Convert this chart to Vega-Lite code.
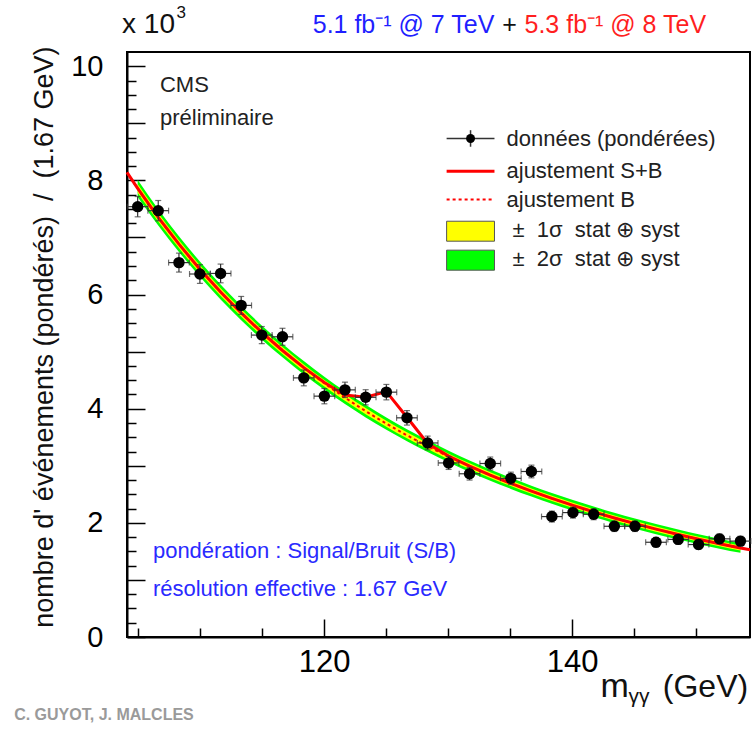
{
"$schema": "https://vega.github.io/schema/vega-lite/v6.json",
"width": 623, "height": 585,
"autosize": {"type": "none"},
"padding": {"left": 127, "top": 52, "right": 2, "bottom": 94},
"background": "white",
"config": {"view": {"stroke": "black", "strokeWidth": 2}, "font": "Liberation Sans", "axis": {"grid": false}},
"resolve": {"axis": {"x": "independent", "y": "independent"}},
"datasets": {
"pts": [
{"m":104.96,"n":7.54,"err":0.178,"hw":0.835},
{"m":106.62,"n":7.47,"err":0.178,"hw":0.835},
{"m":108.29,"n":6.56,"err":0.166,"hw":0.835},
{"m":109.98,"n":6.36,"err":0.164,"hw":0.835},
{"m":111.65,"n":6.37,"err":0.164,"hw":0.835},
{"m":113.31,"n":5.81,"err":0.157,"hw":0.835},
{"m":114.97,"n":5.29,"err":0.150,"hw":0.835},
{"m":116.64,"n":5.26,"err":0.149,"hw":0.835},
{"m":118.36,"n":4.54,"err":0.139,"hw":0.835},
{"m":120.02,"n":4.22,"err":0.134,"hw":0.835},
{"m":121.68,"n":4.33,"err":0.135,"hw":0.835},
{"m":123.35,"n":4.20,"err":0.133,"hw":0.835},
{"m":125.02,"n":4.29,"err":0.135,"hw":0.835},
{"m":126.68,"n":3.84,"err":0.127,"hw":0.835},
{"m":128.35,"n":3.40,"err":0.120,"hw":0.835},
{"m":130.04,"n":3.05,"err":0.114,"hw":0.835},
{"m":131.73,"n":2.86,"err":0.110,"hw":0.835},
{"m":133.40,"n":3.04,"err":0.113,"hw":0.835},
{"m":135.06,"n":2.78,"err":0.108,"hw":0.835},
{"m":136.72,"n":2.90,"err":0.111,"hw":0.835},
{"m":138.37,"n":2.11,"err":0.095,"hw":0.835},
{"m":140.07,"n":2.18,"err":0.096,"hw":0.835},
{"m":141.74,"n":2.15,"err":0.095,"hw":0.835},
{"m":143.41,"n":1.94,"err":0.091,"hw":0.835},
{"m":145.07,"n":1.94,"err":0.091,"hw":0.835},
{"m":146.77,"n":1.66,"err":0.084,"hw":0.835},
{"m":148.56,"n":1.71,"err":0.085,"hw":0.835},
{"m":150.20,"n":1.62,"err":0.083,"hw":0.835},
{"m":151.89,"n":1.72,"err":0.085,"hw":0.835},
{"m":153.58,"n":1.68,"err":0.084,"hw":0.835}
],
"curve": [
{"m":104.1,"b":8.14,"sb":8.14},
{"m":104.96,"b":7.860,"sb":7.860},
{"m":106.62,"b":7.353,"sb":7.353},
{"m":108.29,"b":6.883,"sb":6.883},
{"m":109.98,"b":6.445,"sb":6.445},
{"m":111.65,"b":6.045,"sb":6.045},
{"m":113.31,"b":5.678,"sb":5.678},
{"m":114.97,"b":5.337,"sb":5.337},
{"m":116.64,"b":5.020,"sb":5.020},
{"m":118.36,"b":4.717,"sb":4.720},
{"m":120.02,"b":4.446,"sb":4.460},
{"m":121.68,"b":4.194,"sb":4.240},
{"m":123.35,"b":3.958,"sb":4.200},
{"m":125.02,"b":3.738,"sb":4.300},
{"m":126.68,"b":3.534,"sb":3.850},
{"m":128.35,"b":3.343,"sb":3.390},
{"m":130.04,"b":3.162,"sb":3.170},
{"m":131.73,"b":2.993,"sb":2.993},
{"m":133.40,"b":2.837,"sb":2.837},
{"m":135.06,"b":2.692,"sb":2.692},
{"m":136.72,"b":2.556,"sb":2.556},
{"m":138.37,"b":2.428,"sb":2.428},
{"m":140.07,"b":2.306,"sb":2.306},
{"m":141.74,"b":2.193,"sb":2.193},
{"m":143.41,"b":2.086,"sb":2.086},
{"m":145.07,"b":1.986,"sb":1.986},
{"m":146.77,"b":1.890,"sb":1.890},
{"m":148.56,"b":1.796,"sb":1.796},
{"m":150.20,"b":1.714,"sb":1.714},
{"m":151.89,"b":1.634,"sb":1.634},
{"m":153.58,"b":1.559,"sb":1.559},
{"m":154.35,"b":1.530,"sb":1.530}
],
"band": [
{"m":104.96,"lo2":7.710,"hi2":8.010,"lo1":7.785,"hi1":7.935},
{"m":106.62,"lo2":7.210,"hi2":7.496,"lo1":7.282,"hi1":7.424},
{"m":108.29,"lo2":6.745,"hi2":7.021,"lo1":6.814,"hi1":6.952},
{"m":109.98,"lo2":6.311,"hi2":6.579,"lo1":6.378,"hi1":6.512},
{"m":111.65,"lo2":5.914,"hi2":6.176,"lo1":5.980,"hi1":6.110},
{"m":113.31,"lo2":5.551,"hi2":5.805,"lo1":5.615,"hi1":5.741},
{"m":114.97,"lo2":5.214,"hi2":5.460,"lo1":5.276,"hi1":5.398},
{"m":116.64,"lo2":4.900,"hi2":5.140,"lo1":4.960,"hi1":5.080},
{"m":118.36,"lo2":4.600,"hi2":4.834,"lo1":4.658,"hi1":4.776},
{"m":120.02,"lo2":4.332,"hi2":4.560,"lo1":4.389,"hi1":4.503},
{"m":121.68,"lo2":4.082,"hi2":4.306,"lo1":4.138,"hi1":4.250},
{"m":123.35,"lo2":3.848,"hi2":4.068,"lo1":3.903,"hi1":4.013},
{"m":125.02,"lo2":3.631,"hi2":3.845,"lo1":3.685,"hi1":3.791},
{"m":126.68,"lo2":3.429,"hi2":3.639,"lo1":3.481,"hi1":3.587},
{"m":128.35,"lo2":3.240,"hi2":3.446,"lo1":3.292,"hi1":3.394},
{"m":130.04,"lo2":3.061,"hi2":3.263,"lo1":3.112,"hi1":3.212},
{"m":131.73,"lo2":2.893,"hi2":3.093,"lo1":2.943,"hi1":3.043},
{"m":133.40,"lo2":2.739,"hi2":2.935,"lo1":2.788,"hi1":2.886},
{"m":135.06,"lo2":2.595,"hi2":2.789,"lo1":2.644,"hi1":2.740},
{"m":136.72,"lo2":2.461,"hi2":2.651,"lo1":2.508,"hi1":2.604},
{"m":138.37,"lo2":2.334,"hi2":2.522,"lo1":2.381,"hi1":2.475},
{"m":140.07,"lo2":2.213,"hi2":2.399,"lo1":2.260,"hi1":2.352},
{"m":141.74,"lo2":2.101,"hi2":2.285,"lo1":2.147,"hi1":2.239},
{"m":143.41,"lo2":1.995,"hi2":2.177,"lo1":2.041,"hi1":2.131},
{"m":145.07,"lo2":1.896,"hi2":2.076,"lo1":1.941,"hi1":2.031},
{"m":146.77,"lo2":1.801,"hi2":1.979,"lo1":1.846,"hi1":1.934},
{"m":148.56,"lo2":1.708,"hi2":1.884,"lo1":1.752,"hi1":1.840},
{"m":150.20,"lo2":1.627,"hi2":1.801,"lo1":1.671,"hi1":1.757},
{"m":151.89,"lo2":1.548,"hi2":1.720,"lo1":1.591,"hi1":1.677},
{"m":153.58,"lo2":1.474,"hi2":1.644,"lo1":1.517,"hi1":1.601}
]
},
"layer": [
{"data":{"name":"band"},"mark":{"type":"area","color":"#00ff00","interpolate":"monotone"},
 "encoding":{"x":{"field":"m","type":"quantitative","scale":{"domain":[104.1,154.35],"nice":false,"zero":false},"axis":null},
 "y":{"field":"lo2","type":"quantitative","scale":{"domain":[0,10.25],"nice":false,"zero":false},"axis":null},"y2":{"field":"hi2"}}},
{"data":{"name":"band"},"mark":{"type":"area","color":"#ffff00","interpolate":"monotone"},
 "encoding":{"x":{"field":"m","type":"quantitative","scale":{"domain":[104.1,154.35],"nice":false,"zero":false},"axis":null},
 "y":{"field":"lo1","type":"quantitative","scale":{"domain":[0,10.25],"nice":false,"zero":false},"axis":null},"y2":{"field":"hi1"}}},
{"data":{"name":"curve"},"mark":{"type":"line","color":"#ff0000","strokeWidth":2,"strokeDash":[3,3],"interpolate":"monotone"},
 "encoding":{"x":{"field":"m","type":"quantitative","scale":{"domain":[104.1,154.35],"nice":false,"zero":false},
   "axis":{"title":null,"orient":"bottom","values":[120,140],"tickSize":-18,"tickColor":"black","tickWidth":1.5,"labelFontSize":31,"labelColor":"black","labelPadding":28,"labelFlush":false,"labelOverlap":false,"domain":false,"grid":false}},
 "y":{"field":"b","type":"quantitative","scale":{"domain":[0,10.25],"nice":false,"zero":false},
   "axis":{"title":null,"orient":"left","values":[0,1,2,3,4,5,6,7,8,9,10],"tickSize":-18,"tickColor":"black","tickWidth":1.5,"labelExpr":"datum.value % 2 === 0 ? datum.label : ''","labelFontSize":29,"labelColor":"black","labelPadding":42,"labelFlush":false,"labelOverlap":false,"domain":false,"grid":false}}}},
{"data":{"name":"curve"},"mark":{"type":"line","color":"#ff0000","strokeWidth":3},
 "encoding":{"x":{"field":"m","type":"quantitative","scale":{"domain":[104.1,154.35],"nice":false,"zero":false},"axis":null},
 "y":{"field":"sb","type":"quantitative","scale":{"domain":[0,10.25],"nice":false,"zero":false},"axis":null}}},
{"data":{"name":"pts"},"mark":{"type":"errorbar","color":"#333333","thickness":1.2,"ticks":{"size":6}},
 "encoding":{"x":{"field":"m","type":"quantitative","scale":{"domain":[104.1,154.35],"nice":false,"zero":false},"axis":null},
 "y":{"field":"n","type":"quantitative","scale":{"domain":[0,10.25],"nice":false,"zero":false},"axis":null},"yError":{"field":"err"}}},
{"data":{"name":"pts"},"mark":{"type":"errorbar","color":"#333333","thickness":1.2,"ticks":{"size":6}},
 "encoding":{"x":{"field":"m","type":"quantitative","scale":{"domain":[104.1,154.35],"nice":false,"zero":false},"axis":null},
 "xError":{"field":"hw"},
 "y":{"field":"n","type":"quantitative","scale":{"domain":[0,10.25],"nice":false,"zero":false},"axis":null}}},
{"data":{"name":"pts"},"mark":{"type":"point","filled":true,"shape":"circle","color":"black","opacity":1,"size":130},
 "encoding":{"x":{"field":"m","type":"quantitative","scale":{"domain":[104.1,154.35],"nice":false,"zero":false},
   "axis":{"title":null,"orient":"bottom","values":[105,110,115,125,130,135,145,150],"tickSize":-9,"tickColor":"black","tickWidth":1.5,"labels":false,"domainColor":"black","domainWidth":2,"grid":false}},
 "y":{"field":"n","type":"quantitative","scale":{"domain":[0,10.25],"nice":false,"zero":false},
   "axis":{"title":null,"orient":"left","values":[0.25,0.5,0.75,1.25,1.5,1.75,2.25,2.5,2.75,3.25,3.5,3.75,4.25,4.5,4.75,5.25,5.5,5.75,6.25,6.5,6.75,7.25,7.5,7.75,8.25,8.5,8.75,9.25,9.5,9.75],"tickSize":-9,"tickColor":"black","tickWidth":1.5,"labels":false,"domainColor":"black","domainWidth":2,"grid":false}}}},
{"data":{"values":[{}]},"mark":{"type":"rule","color":"#333333","strokeWidth":1.5},
 "encoding":{"x":{"datum":129.88,"type":"quantitative","axis":null},"x2":{"datum":133.74},"y":{"datum":8.734,"type":"quantitative","axis":null}}},
{"data":{"values":[{}]},"mark":{"type":"rule","color":"#333333","strokeWidth":1.5},
 "encoding":{"x":{"datum":131.81,"type":"quantitative","axis":null},"y":{"datum":8.59,"type":"quantitative","axis":null},"y2":{"datum":8.88}}},
{"data":{"values":[{}]},"mark":{"type":"point","filled":true,"shape":"circle","color":"black","opacity":1,"size":80},
 "encoding":{"x":{"datum":131.81,"type":"quantitative","axis":null},"y":{"datum":8.734,"type":"quantitative","axis":null}}},
{"data":{"values":[{}]},"mark":{"type":"rule","color":"#ff0000","strokeWidth":3},
 "encoding":{"x":{"datum":129.88,"type":"quantitative","axis":null},"x2":{"datum":133.74},"y":{"datum":8.161,"type":"quantitative","axis":null}}},
{"data":{"values":[{}]},"mark":{"type":"rule","color":"#ff0000","strokeWidth":2,"strokeDash":[3,3]},
 "encoding":{"x":{"datum":129.88,"type":"quantitative","axis":null},"x2":{"datum":133.74},"y":{"datum":7.665,"type":"quantitative","axis":null}}},
{"data":{"values":[{}]},"mark":{"type":"rect","fill":"#ffff00","stroke":"#555555","strokeWidth":1},
 "encoding":{"x":{"datum":129.88,"type":"quantitative","axis":null},"x2":{"datum":133.74},"y":{"datum":6.935,"type":"quantitative","axis":null},"y2":{"datum":7.285}}},
{"data":{"values":[{}]},"mark":{"type":"rect","fill":"#00ff00","stroke":"#555555","strokeWidth":1},
 "encoding":{"x":{"datum":129.88,"type":"quantitative","axis":null},"x2":{"datum":133.74},"y":{"datum":6.427,"type":"quantitative","axis":null},"y2":{"datum":6.778}}},
{"data":{"values":[{}]},"mark":{"type":"text","text":"données (pondérées)","align":"left","baseline":"middle","fontSize":22,"color":"#222222"},
 "encoding":{"x":{"datum":134.71,"type":"quantitative","axis":null},"y":{"datum":8.734,"type":"quantitative","axis":null}}},
{"data":{"values":[{}]},"mark":{"type":"text","text":"ajustement S+B","align":"left","baseline":"middle","fontSize":22,"color":"#222222"},
 "encoding":{"x":{"datum":134.71,"type":"quantitative","axis":null},"y":{"datum":8.161,"type":"quantitative","axis":null}}},
{"data":{"values":[{}]},"mark":{"type":"text","text":"ajustement B","align":"left","baseline":"middle","fontSize":22,"color":"#222222"},
 "encoding":{"x":{"datum":134.71,"type":"quantitative","axis":null},"y":{"datum":7.665,"type":"quantitative","axis":null}}},
{"data":{"values":[{}]},"mark":{"type":"text","text":"± \u00a01σ \u00a0stat ⊕ syst","align":"left","baseline":"middle","fontSize":22,"color":"#222222"},
 "encoding":{"x":{"datum":135.19,"type":"quantitative","axis":null},"y":{"datum":7.128,"type":"quantitative","axis":null}}},
{"data":{"values":[{}]},"mark":{"type":"text","text":"± \u00a02σ \u00a0stat ⊕ syst","align":"left","baseline":"middle","fontSize":22,"color":"#222222"},
 "encoding":{"x":{"datum":135.19,"type":"quantitative","axis":null},"y":{"datum":6.615,"type":"quantitative","axis":null}}},
{"data":{"values":[{}]},"mark":{"type":"text","text":"CMS","align":"left","baseline":"middle","fontSize":22,"color":"#222222"},
 "encoding":{"x":{"datum":106.76,"type":"quantitative","axis":null},"y":{"datum":9.667,"type":"quantitative","axis":null}}},
{"data":{"values":[{}]},"mark":{"type":"text","text":"préliminaire","align":"left","baseline":"middle","fontSize":22,"color":"#222222"},
 "encoding":{"x":{"datum":106.76,"type":"quantitative","axis":null},"y":{"datum":9.089,"type":"quantitative","axis":null}}},
{"data":{"values":[{}]},"mark":{"type":"text","text":"pondération : Signal/Bruit (S/B)","align":"left","baseline":"middle","fontSize":22,"color":"#2a2aff"},
 "encoding":{"x":{"datum":106.19,"type":"quantitative","axis":null},"y":{"datum":1.506,"type":"quantitative","axis":null}}},
{"data":{"values":[{}]},"mark":{"type":"text","text":"résolution effective : 1.67 GeV","align":"left","baseline":"middle","fontSize":22,"color":"#2a2aff"},
 "encoding":{"x":{"datum":106.19,"type":"quantitative","axis":null},"y":{"datum":0.841,"type":"quantitative","axis":null}}},
{"data":{"values":[{}]},"mark":{"type":"text","text":"x 10","align":"left","baseline":"middle","fontSize":28,"color":"#111111"},
 "encoding":{"x":{"datum":103.70,"type":"quantitative","axis":null},"y":{"datum":10.72,"type":"quantitative","axis":null}}},
{"data":{"values":[{}]},"mark":{"type":"text","text":"3","align":"left","baseline":"middle","fontSize":17,"color":"#111111"},
 "encoding":{"x":{"datum":108.1,"type":"quantitative","axis":null},"y":{"datum":10.93,"type":"quantitative","axis":null}}},
{"data":{"values":[{}]},"mark":{"type":"text","text":"5.1 fb⁻¹ @ 7 TeV","align":"left","baseline":"middle","fontSize":25,"color":"#1f1fff"},
 "encoding":{"x":{"datum":119.08,"type":"quantitative","axis":null},"y":{"datum":10.72,"type":"quantitative","axis":null}}},
{"data":{"values":[{}]},"mark":{"type":"text","text":"+","align":"center","baseline":"middle","fontSize":25,"color":"#111111"},
 "encoding":{"x":{"datum":134.95,"type":"quantitative","axis":null},"y":{"datum":10.72,"type":"quantitative","axis":null}}},
{"data":{"values":[{}]},"mark":{"type":"text","text":"5.3 fb⁻¹ @ 8 TeV","align":"left","baseline":"middle","fontSize":25,"color":"#ff1f1f"},
 "encoding":{"x":{"datum":136.16,"type":"quantitative","axis":null},"y":{"datum":10.72,"type":"quantitative","axis":null}}},
{"data":{"values":[{}]},"mark":{"type":"text","text":"nombre d' événements (pondérés) \u00a0/ \u00a0(1.67 GeV)","align":"center","baseline":"middle","angle":270,"fontSize":27,"color":"#111111"},
 "encoding":{"x":{"datum":97.5,"type":"quantitative","axis":null},"y":{"datum":5.254,"type":"quantitative","axis":null}}},
{"data":{"values":[{}]},"mark":{"type":"text","text":"m","align":"left","baseline":"alphabetic","fontSize":34,"color":"#111111"},
 "encoding":{"x":{"datum":142.3,"type":"quantitative","axis":null},"y":{"datum":-1.05,"type":"quantitative","axis":null}}},
{"data":{"values":[{}]},"mark":{"type":"text","text":"γγ","align":"left","baseline":"alphabetic","fontSize":21,"color":"#111111"},
 "encoding":{"x":{"datum":144.55,"type":"quantitative","axis":null},"y":{"datum":-1.15,"type":"quantitative","axis":null}}},
{"data":{"values":[{}]},"mark":{"type":"text","text":"(GeV)","align":"right","baseline":"alphabetic","fontSize":32,"color":"#111111"},
 "encoding":{"x":{"datum":154.2,"type":"quantitative","axis":null},"y":{"datum":-1.05,"type":"quantitative","axis":null}}},
{"data":{"values":[{}]},"mark":{"type":"text","text":"C. GUYOT, J. MALCLES","align":"left","baseline":"middle","fontSize":16,"fontWeight":"bold","color":"#9a9a9a"},
 "encoding":{"x":{"datum":95.0,"type":"quantitative","axis":null},"y":{"datum":-1.366,"type":"quantitative","axis":null}}}
]
}
